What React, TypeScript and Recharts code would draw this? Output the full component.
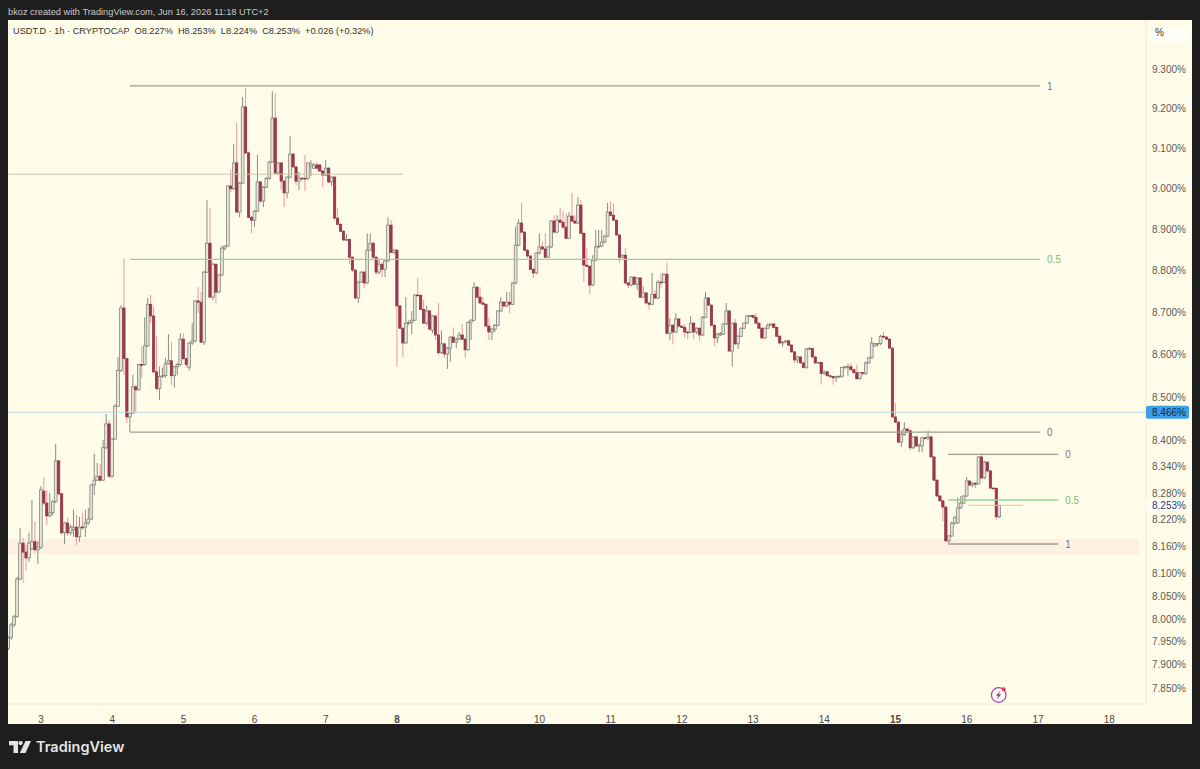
import {
  ComposedChart,
  Bar,
  XAxis,
  YAxis,
  ReferenceLine,
  ReferenceArea,
  ReferenceDot,
} from "recharts";

const opens = [
  7.936, 7.959, 7.987, 8.005, 8.088, 8.168, 8.148, 8.135, 8.155, 8.171,
  8.153, 8.159, 8.285, 8.258, 8.229, 8.236, 8.261, 8.354, 8.279, 8.191,
  8.213, 8.191, 8.198, 8.204, 8.182, 8.204, 8.204, 8.213, 8.222, 8.299,
  8.31, 8.319, 8.31, 8.384, 8.439, 8.319, 8.404, 8.48, 8.563, 8.711,
  8.591, 8.455, 8.464, 8.525, 8.518, 8.577, 8.577, 8.621, 8.72, 8.692,
  8.56, 8.521, 8.549, 8.551, 8.579, 8.586, 8.551, 8.572, 8.577, 8.637,
  8.591, 8.57, 8.628, 8.633, 8.728, 8.725, 8.63, 8.797, 8.867, 8.737,
  8.816, 8.749, 8.79, 8.855, 8.86, 9.007, 9.0, 9.064, 8.943, 9.014,
  9.204, 9.089, 8.93, 8.923, 8.945, 9.017, 8.97, 9.004, 9.026, 9.066,
  9.176, 9.039, 9.064, 9.019, 8.99, 9.029, 9.086, 9.054, 9.019, 9.026,
  9.026, 9.026, 9.056, 9.051, 9.059, 9.059, 9.044, 9.034, 9.051, 9.017,
  9.029, 8.928, 8.913, 8.896, 8.875, 8.876, 8.833, 8.802, 8.735, 8.773,
  8.797, 8.771, 8.85, 8.867, 8.833, 8.797, 8.816, 8.804, 8.824, 8.911,
  8.845, 8.85, 8.716, 8.663, 8.628, 8.675, 8.677, 8.682, 8.742, 8.741,
  8.708, 8.675, 8.704, 8.658, 8.692, 8.647, 8.605, 8.626, 8.602, 8.616,
  8.642, 8.63, 8.637, 8.647, 8.637, 8.612, 8.677, 8.682, 8.761, 8.737,
  8.723, 8.72, 8.668, 8.654, 8.661, 8.67, 8.704, 8.725, 8.716, 8.725,
  8.72, 8.771, 8.862, 8.916, 8.894, 8.85, 8.836, 8.804, 8.795, 8.843,
  8.858, 8.853, 8.833, 8.858, 8.921, 8.894, 8.923, 8.918, 8.906, 8.879,
  8.933, 8.921, 8.916, 8.96, 8.891, 8.814, 8.811, 8.766, 8.826, 8.858,
  8.86, 8.87, 8.884, 8.943, 8.935, 8.923, 8.887, 8.833, 8.838, 8.771,
  8.766, 8.785, 8.768, 8.783, 8.737, 8.747, 8.723, 8.72, 8.744, 8.735,
  8.773, 8.772, 8.792, 8.651, 8.67, 8.654, 8.685, 8.668, 8.665, 8.654,
  8.653, 8.675, 8.654, 8.663, 8.647, 8.689, 8.735, 8.718, 8.67, 8.64,
  8.647, 8.649, 8.673, 8.704, 8.609, 8.675, 8.626, 8.644, 8.663, 8.675,
  8.692, 8.693, 8.689, 8.675, 8.663, 8.64, 8.663, 8.67, 8.673, 8.665,
  8.644, 8.628, 8.63, 8.633, 8.623, 8.607, 8.588, 8.595, 8.581, 8.57,
  8.614, 8.615, 8.595, 8.581, 8.582, 8.556, 8.56, 8.551, 8.549, 8.546,
  8.549, 8.55, 8.57, 8.57, 8.572, 8.565, 8.558, 8.544, 8.558, 8.556,
  8.581, 8.593, 8.621, 8.626, 8.627, 8.644, 8.642, 8.637, 8.616, 8.455,
  8.443, 8.397, 8.414, 8.427, 8.423, 8.384, 8.409, 8.388, 8.388, 8.407,
  8.406, 8.409, 8.363, 8.31, 8.274, 8.263, 8.249, 8.173, 8.184, 8.213,
  8.213, 8.247, 8.258, 8.274, 8.308, 8.299, 8.303, 8.301, 8.363, 8.315,
  8.351, 8.331, 8.292, 8.291, 8.227,
];

const closes = [
  7.959, 7.987, 8.005, 8.088, 8.168, 8.148, 8.135, 8.168, 8.171, 8.153,
  8.159, 8.288, 8.258, 8.229, 8.236, 8.261, 8.354, 8.279, 8.191, 8.213,
  8.191, 8.204, 8.204, 8.182, 8.204, 8.202, 8.213, 8.222, 8.299, 8.31,
  8.319, 8.31, 8.384, 8.439, 8.319, 8.404, 8.48, 8.563, 8.711, 8.591,
  8.455, 8.464, 8.525, 8.518, 8.577, 8.575, 8.621, 8.72, 8.692, 8.56,
  8.521, 8.549, 8.551, 8.579, 8.586, 8.551, 8.572, 8.577, 8.637, 8.591,
  8.577, 8.628, 8.633, 8.728, 8.725, 8.63, 8.797, 8.867, 8.737, 8.816,
  8.749, 8.79, 8.855, 8.86, 9.007, 9.0, 9.064, 8.943, 9.014, 9.204,
  9.089, 8.93, 8.923, 8.945, 9.017, 8.97, 9.004, 9.026, 9.066, 9.176,
  9.039, 9.064, 9.019, 8.99, 9.029, 9.086, 9.054, 9.019, 9.026, 9.025,
  9.025, 9.064, 9.061, 9.059, 9.051, 9.044, 9.034, 9.051, 9.017, 9.029,
  8.928, 8.913, 8.896, 8.875, 8.876, 8.833, 8.802, 8.735, 8.773, 8.797,
  8.771, 8.85, 8.867, 8.833, 8.797, 8.816, 8.804, 8.824, 8.911, 8.845,
  8.85, 8.716, 8.663, 8.628, 8.675, 8.677, 8.682, 8.742, 8.741, 8.708,
  8.675, 8.704, 8.661, 8.692, 8.647, 8.605, 8.626, 8.602, 8.616, 8.642,
  8.63, 8.637, 8.647, 8.637, 8.612, 8.677, 8.682, 8.761, 8.737, 8.723,
  8.72, 8.668, 8.654, 8.661, 8.67, 8.704, 8.725, 8.716, 8.725, 8.72,
  8.771, 8.862, 8.916, 8.894, 8.85, 8.836, 8.804, 8.795, 8.843, 8.858,
  8.853, 8.833, 8.858, 8.921, 8.894, 8.923, 8.918, 8.906, 8.879, 8.933,
  8.921, 8.916, 8.96, 8.891, 8.814, 8.811, 8.766, 8.826, 8.858, 8.86,
  8.87, 8.884, 8.943, 8.935, 8.923, 8.887, 8.833, 8.838, 8.771, 8.766,
  8.785, 8.768, 8.783, 8.737, 8.747, 8.723, 8.72, 8.744, 8.735, 8.773,
  8.772, 8.792, 8.651, 8.67, 8.654, 8.685, 8.668, 8.665, 8.654, 8.653,
  8.675, 8.654, 8.663, 8.647, 8.689, 8.735, 8.718, 8.67, 8.64, 8.649,
  8.651, 8.673, 8.704, 8.609, 8.675, 8.626, 8.644, 8.663, 8.675, 8.692,
  8.693, 8.689, 8.675, 8.663, 8.64, 8.663, 8.67, 8.673, 8.665, 8.644,
  8.628, 8.63, 8.633, 8.623, 8.607, 8.588, 8.595, 8.581, 8.57, 8.614,
  8.615, 8.595, 8.581, 8.582, 8.556, 8.56, 8.551, 8.549, 8.546, 8.549,
  8.55, 8.57, 8.572, 8.572, 8.565, 8.558, 8.544, 8.558, 8.556, 8.581,
  8.593, 8.628, 8.626, 8.627, 8.644, 8.642, 8.637, 8.616, 8.455, 8.443,
  8.397, 8.414, 8.427, 8.423, 8.384, 8.409, 8.388, 8.39, 8.407, 8.406,
  8.409, 8.363, 8.31, 8.274, 8.263, 8.249, 8.173, 8.184, 8.213, 8.225,
  8.247, 8.258, 8.274, 8.308, 8.299, 8.303, 8.301, 8.363, 8.315, 8.351,
  8.331, 8.292, 8.291, 8.227, 8.253,
];

const highs = [
  7.963, 7.992, 8.009, 8.093, 8.202, 8.18, 8.164, 8.191, 8.265, 8.216,
  8.173, 8.297, 8.317, 8.288, 8.281, 8.265, 8.393, 8.356, 8.281, 8.216,
  8.225, 8.209, 8.243, 8.231, 8.227, 8.236, 8.243, 8.247, 8.301, 8.37,
  8.349, 8.347, 8.402, 8.462, 8.448, 8.407, 8.485, 8.595, 8.718, 8.831,
  8.593, 8.466, 8.553, 8.53, 8.579, 8.619, 8.689, 8.735, 8.742, 8.713,
  8.644, 8.572, 8.57, 8.593, 8.649, 8.63, 8.574, 8.581, 8.651, 8.651,
  8.593, 8.63, 8.675, 8.73, 8.761, 8.749, 8.8, 8.972, 8.953, 8.821,
  8.819, 8.792, 8.86, 8.862, 9.009, 9.046, 9.111, 9.164, 9.017, 9.229,
  9.252, 9.091, 8.933, 8.948, 9.084, 9.019, 9.007, 9.029, 9.069, 9.244,
  9.239, 9.066, 9.066, 9.022, 9.031, 9.131, 9.089, 9.056, 9.041, 9.029,
  9.084, 9.066, 9.071, 9.064, 9.066, 9.061, 9.046, 9.071, 9.054, 9.031,
  9.031, 8.953, 8.916, 8.899, 8.889, 8.877, 8.836, 8.804, 8.776, 8.8,
  8.8, 8.891, 8.891, 8.87, 8.836, 8.826, 8.821, 8.826, 8.93, 8.923,
  8.853, 8.853, 8.718, 8.665, 8.737, 8.682, 8.704, 8.744, 8.783, 8.744,
  8.73, 8.716, 8.706, 8.694, 8.694, 8.723, 8.658, 8.628, 8.619, 8.644,
  8.665, 8.64, 8.654, 8.673, 8.64, 8.68, 8.685, 8.773, 8.763, 8.761,
  8.737, 8.723, 8.689, 8.663, 8.673, 8.706, 8.737, 8.728, 8.749, 8.749,
  8.773, 8.908, 8.925, 8.965, 8.896, 8.853, 8.838, 8.807, 8.845, 8.891,
  8.872, 8.891, 8.86, 8.923, 8.935, 8.935, 8.953, 8.945, 8.94, 8.943,
  8.99, 8.935, 8.98, 8.972, 8.894, 8.855, 8.814, 8.838, 8.899, 8.899,
  8.899, 8.887, 8.965, 8.97, 8.965, 8.925, 8.889, 8.84, 8.855, 8.773,
  8.787, 8.787, 8.785, 8.785, 8.763, 8.749, 8.725, 8.795, 8.754, 8.778,
  8.795, 8.795, 8.819, 8.687, 8.673, 8.699, 8.687, 8.67, 8.673, 8.656,
  8.692, 8.677, 8.665, 8.665, 8.692, 8.749, 8.737, 8.72, 8.673, 8.651,
  8.654, 8.675, 8.723, 8.706, 8.677, 8.685, 8.647, 8.665, 8.677, 8.694,
  8.694, 8.694, 8.699, 8.677, 8.665, 8.665, 8.675, 8.675, 8.675, 8.668,
  8.647, 8.633, 8.635, 8.635, 8.626, 8.609, 8.598, 8.598, 8.584, 8.616,
  8.619, 8.616, 8.598, 8.584, 8.584, 8.563, 8.563, 8.553, 8.551, 8.551,
  8.551, 8.572, 8.574, 8.579, 8.581, 8.567, 8.577, 8.56, 8.56, 8.584,
  8.595, 8.642, 8.628, 8.628, 8.647, 8.654, 8.644, 8.64, 8.619, 8.487,
  8.446, 8.423, 8.443, 8.43, 8.425, 8.411, 8.411, 8.393, 8.409, 8.409,
  8.423, 8.411, 8.365, 8.312, 8.276, 8.265, 8.252, 8.186, 8.216, 8.229,
  8.27, 8.274, 8.276, 8.317, 8.31, 8.306, 8.306, 8.365, 8.37, 8.354,
  8.354, 8.333, 8.294, 8.294, 8.253,
];

const lows = [
  7.932, 7.954, 7.983, 8.003, 8.086, 8.079, 8.108, 8.126, 8.153, 8.146,
  8.122, 8.155, 8.254, 8.209, 8.227, 8.231, 8.258, 8.276, 8.186, 8.166,
  8.184, 8.186, 8.182, 8.164, 8.171, 8.198, 8.182, 8.209, 8.22, 8.276,
  8.308, 8.306, 8.308, 8.381, 8.315, 8.315, 8.402, 8.478, 8.56, 8.553,
  8.441, 8.42, 8.462, 8.464, 8.516, 8.546, 8.574, 8.619, 8.675, 8.558,
  8.516, 8.494, 8.546, 8.546, 8.577, 8.53, 8.523, 8.553, 8.574, 8.588,
  8.57, 8.563, 8.623, 8.63, 8.699, 8.628, 8.623, 8.795, 8.735, 8.73,
  8.723, 8.747, 8.787, 8.85, 8.858, 8.992, 8.997, 8.94, 8.93, 9.012,
  9.086, 8.928, 8.891, 8.906, 8.943, 8.965, 8.955, 9.002, 9.022, 9.064,
  9.036, 9.034, 8.997, 8.955, 8.977, 9.026, 9.051, 9.009, 8.997, 9.024,
  8.994, 9.022, 9.031, 9.049, 9.046, 9.041, 9.004, 9.031, 9.014, 9.007,
  8.925, 8.911, 8.894, 8.872, 8.872, 8.816, 8.797, 8.732, 8.723, 8.771,
  8.759, 8.768, 8.848, 8.831, 8.79, 8.792, 8.785, 8.785, 8.821, 8.843,
  8.84, 8.572, 8.661, 8.595, 8.626, 8.67, 8.649, 8.68, 8.739, 8.706,
  8.673, 8.67, 8.658, 8.651, 8.635, 8.6, 8.602, 8.593, 8.567, 8.584,
  8.628, 8.616, 8.635, 8.635, 8.593, 8.609, 8.635, 8.68, 8.735, 8.72,
  8.718, 8.665, 8.635, 8.635, 8.654, 8.668, 8.701, 8.713, 8.713, 8.699,
  8.718, 8.768, 8.86, 8.891, 8.848, 8.831, 8.802, 8.783, 8.792, 8.84,
  8.85, 8.831, 8.831, 8.855, 8.891, 8.891, 8.916, 8.903, 8.877, 8.877,
  8.918, 8.913, 8.913, 8.889, 8.773, 8.809, 8.744, 8.763, 8.824, 8.855,
  8.858, 8.867, 8.882, 8.933, 8.921, 8.884, 8.819, 8.831, 8.768, 8.759,
  8.763, 8.766, 8.754, 8.735, 8.735, 8.72, 8.706, 8.718, 8.732, 8.732,
  8.759, 8.771, 8.649, 8.635, 8.626, 8.651, 8.665, 8.663, 8.64, 8.637,
  8.651, 8.637, 8.649, 8.633, 8.644, 8.687, 8.716, 8.668, 8.621, 8.628,
  8.644, 8.647, 8.67, 8.607, 8.572, 8.623, 8.614, 8.642, 8.661, 8.673,
  8.689, 8.687, 8.673, 8.661, 8.637, 8.637, 8.661, 8.668, 8.663, 8.642,
  8.626, 8.619, 8.628, 8.621, 8.605, 8.581, 8.581, 8.579, 8.567, 8.567,
  8.612, 8.593, 8.579, 8.579, 8.53, 8.553, 8.549, 8.546, 8.53, 8.537,
  8.546, 8.546, 8.567, 8.551, 8.563, 8.556, 8.541, 8.541, 8.553, 8.553,
  8.579, 8.591, 8.619, 8.619, 8.623, 8.64, 8.635, 8.614, 8.453, 8.441,
  8.395, 8.386, 8.411, 8.42, 8.379, 8.381, 8.386, 8.374, 8.374, 8.402,
  8.402, 8.361, 8.308, 8.272, 8.261, 8.216, 8.171, 8.168, 8.182, 8.209,
  8.211, 8.245, 8.256, 8.272, 8.297, 8.294, 8.292, 8.301, 8.312, 8.312,
  8.328, 8.29, 8.288, 8.22, 8.224,
];

// hours since Jun 3 00:00, the day labels sit on the midnight candles
const dayHours = [0, 24, 48, 72, 96, 120, 144, 168, 192, 216, 240, 264, 288, 312, 336, 360];
const dayLabels = ["3", "4", "5", "6", "7", "8", "9", "10", "11", "12", "13", "14", "15", "16", "17", "18"];
const boldDays = ["8", "15"];

const priceTicks = [
  9.3, 9.2, 9.1, 9.0, 8.9, 8.8, 8.7, 8.6, 8.5, 8.466, 8.4, 8.34, 8.28, 8.253, 8.22, 8.16, 8.1, 8.05, 8.0, 7.95, 7.9, 7.85,
];

const FIRST_HOUR = -11;
const LAST_PRICE = 8.253;
const ALERT_PRICE = 8.466;
const FONT = "'Liberation Sans', Arial, sans-serif";

const candles = opens.map((open, i) => ({
  hour: FIRST_HOUR + i,
  open,
  close: closes[i],
  high: highs[i],
  low: lows[i],
}));

const labelDays = Object.fromEntries(dayHours.map((h, i) => [h, dayLabels[i]]));

function Candle(props: any) {
  const { x, y, width, height, payload } = props;
  const { open, close, high, low } = payload;
  const cx = x + width / 2;
  // same log scale as the axis, between the high and low the bar was given
  const at = (v: number) => y + (height * Math.log(high / v)) / Math.log(high / low);
  const up = close >= open;
  const top = at(Math.max(open, close));
  const bottom = at(Math.min(open, close));
  const half = up ? 1.4 : 1.15;
  return (
    <g>
      <line x1={cx} x2={cx} y1={y} y2={y + height} stroke={up ? "#8a8a82" : "#e8999e"} strokeWidth={1} />
      <rect
        x={cx - half}
        y={top}
        width={half * 2}
        height={Math.max(bottom - top, 0.8)}
        fill={up ? "#e6e5da" : "#a6354e"}
        stroke={up ? "#77776f" : "#8a2f42"}
        strokeWidth={0.7}
      />
    </g>
  );
}

function PriceTick({ x, y, payload }: any) {
  const v = payload.value;
  return (
    <g>
      {v === ALERT_PRICE && <rect x={x - 6} y={y - 6.5} width={43} height={13} rx={2} fill="#3d9fea" />}
      {v === LAST_PRICE && <rect x={x - 6} y={y - 5.5} width={43} height={11} fill="#fffff6" />}
      <text
        x={x}
        y={y + 3.5}
        fontSize={10}
        fontFamily={FONT}
        fill={v === ALERT_PRICE ? "#10263c" : v === LAST_PRICE ? "#1d3d78" : "#5a5a55"}
      >
        {v.toFixed(3)}%
      </text>
    </g>
  );
}

function DayTick({ x, y, payload }: any) {
  const label = labelDays[payload.value];
  return (
    <text
      x={x}
      y={y + 11}
      textAnchor="middle"
      fontSize={10}
      fontFamily={FONT}
      fontWeight={boldDays.includes(label) ? 700 : 400}
      fill="#4a4a46"
    >
      {label}
    </text>
  );
}

function FibLabel({ hour, price, text, color }: { hour: number; price: number; text: string; color: string }) {
  return (
    <ReferenceDot
      x={hour}
      y={price}
      r={0}
      fill="none"
      stroke="none"
      ifOverflow="visible"
      label={{ value: text, position: "right", offset: 7, fontSize: 10, fontFamily: FONT, fill: color }}
    />
  );
}

export default function App() {
  return (
    <div style={{ position: "absolute", left: 0, top: 0, width: 1200, height: 769, background: "#1e1e1e", overflow: "hidden" }}>
      <div
        style={{
          position: "absolute",
          left: 8,
          top: 5,
          color: "#c9c9c9",
          fontSize: 9.25,
          lineHeight: "14px",
          fontFamily: FONT,
          whiteSpace: "nowrap",
        }}
      >
        bkoz created with TradingView.com, Jun 16, 2026 11:18 UTC+2
      </div>
      <div style={{ position: "absolute", left: 8, top: 20, width: 1184, height: 704, background: "#fffde9" }} />
      <div style={{ position: "absolute", left: 1149, top: 27, width: 40, height: 15, borderRadius: 3, background: "#fffff8" }} />
      <div style={{ position: "absolute", left: 0, top: 0 }}>
        <ComposedChart width={1200} height={769} data={candles} margin={{ top: 20, right: 8, bottom: 45, left: 8 }}>
          <XAxis
            xAxisId={0}
            dataKey="hour"
            type="number"
            scale="linear"
            domain={[-11.12, 372.4]}
            allowDataOverflow
            ticks={dayHours}
            interval={0}
            height={20}
            tick={<DayTick />}
            tickLine={false}
            axisLine={{ stroke: "#eeecd6" }}
          />
          <YAxis
            yAxisId={0}
            orientation="right"
            type="number"
            scale="log"
            domain={[7.816, 9.4257]}
            allowDataOverflow
            ticks={priceTicks}
            interval={0}
            width={46}
            tick={<PriceTick />}
            tickLine={false}
            tickMargin={0}
            axisLine={{ stroke: "#eeecd6" }}
          />
          <ReferenceArea x1={-11.12} x2={370.1} y1={8.143} y2={8.177} fill="#fdf0e2" fillOpacity={1} stroke="none" />
          <ReferenceLine y={ALERT_PRICE} stroke="#bcd6e6" strokeWidth={1} />
          <ReferenceLine segment={[{ x: -11.12, y: 9.036 }, { x: 122, y: 9.036 }]} stroke="#cfc5ae" strokeWidth={1} />
          <ReferenceLine segment={[{ x: 30, y: 9.257 }, { x: 336.7, y: 9.257 }]} stroke="#9c9c94" strokeWidth={1.3} />
          <ReferenceLine segment={[{ x: 30, y: 8.828 }, { x: 336.7, y: 8.828 }]} stroke="#97d296" strokeWidth={1.3} />
          <ReferenceLine segment={[{ x: 30, y: 8.42 }, { x: 336.7, y: 8.42 }]} stroke="#9c9c94" strokeWidth={1.3} />
          <ReferenceLine segment={[{ x: 305.7, y: 8.369 }, { x: 342.8, y: 8.369 }]} stroke="#9c9c94" strokeWidth={1.3} />
          <ReferenceLine segment={[{ x: 305.7, y: 8.265 }, { x: 342.8, y: 8.265 }]} stroke="#97d296" strokeWidth={1.3} />
          <ReferenceLine segment={[{ x: 305.7, y: 8.166 }, { x: 342.8, y: 8.166 }]} stroke="#9c9c94" strokeWidth={1.3} />
          <ReferenceLine segment={[{ x: 312.4, y: 8.253 }, { x: 331, y: 8.253 }]} stroke="#f0c48c" strokeWidth={1} />
          {FibLabel({ hour: 336.7, price: 9.257, text: "1", color: "#77776f" })}
          {FibLabel({ hour: 336.7, price: 8.828, text: "0.5", color: "#7dbb7a" })}
          {FibLabel({ hour: 336.7, price: 8.42, text: "0", color: "#77776f" })}
          {FibLabel({ hour: 342.8, price: 8.369, text: "0", color: "#77776f" })}
          {FibLabel({ hour: 342.8, price: 8.265, text: "0.5", color: "#7dbb7a" })}
          {FibLabel({ hour: 342.8, price: 8.166, text: "1", color: "#77776f" })}
          <Bar dataKey={(d: any) => [d.low, d.high]} barSize={3} shape={<Candle />} isAnimationActive={false} />
        </ComposedChart>
      </div>
      <div
        style={{
          position: "absolute",
          left: 13,
          top: 25,
          color: "#33332f",
          fontSize: 9.2,
          lineHeight: "13px",
          fontFamily: FONT,
          whiteSpace: "pre",
        }}
      >
        {"USDT.D · 1h · CRYPTOCAP  O8.227%  H8.253%  L8.224%  C8.253%  +0.026 (+0.32%)"}
      </div>
      <div
        style={{
          position: "absolute",
          left: 1155,
          top: 26,
          color: "#33332f",
          fontSize: 10,
          lineHeight: "13px",
          fontFamily: FONT,
        }}
      >
        %
      </div>
      <svg style={{ position: "absolute", left: 988, top: 685 }} width={22} height={20} viewBox="0 0 22 20">
        <circle cx={10.7} cy={10} r={7.3} fill="none" stroke="#9a45c4" strokeWidth={1.2} />
        <path d="M12.5 5.5 L8 10.7 L10.4 10.7 L8.8 14.5 L13.2 9.2 L10.8 9.2 Z" fill="#7f3aa8" />
        <circle cx={15.7} cy={4.3} r={2} fill="#e8413c" />
      </svg>
      <svg style={{ position: "absolute", left: 9, top: 741 }} width={22} height={12} viewBox="0 0 22 13" preserveAspectRatio="none">
        <path d="M0 0 H9 V13 H4.5 V4.5 H0 Z" fill="#e4e4e4" />
        <circle cx={11.6} cy={2.3} r={2.2} fill="#e4e4e4" />
        <path d="M16.5 0 H22 L16.5 13 H10.8 Z" fill="#e4e4e4" />
      </svg>
      <div
        style={{
          position: "absolute",
          left: 36,
          top: 736,
          color: "#e4e4e4",
          fontSize: 14.5,
          lineHeight: "22px",
          fontWeight: 600,
          fontFamily: "Inter, sans-serif",
        }}
      >
        TradingView
      </div>
    </div>
  );
}
